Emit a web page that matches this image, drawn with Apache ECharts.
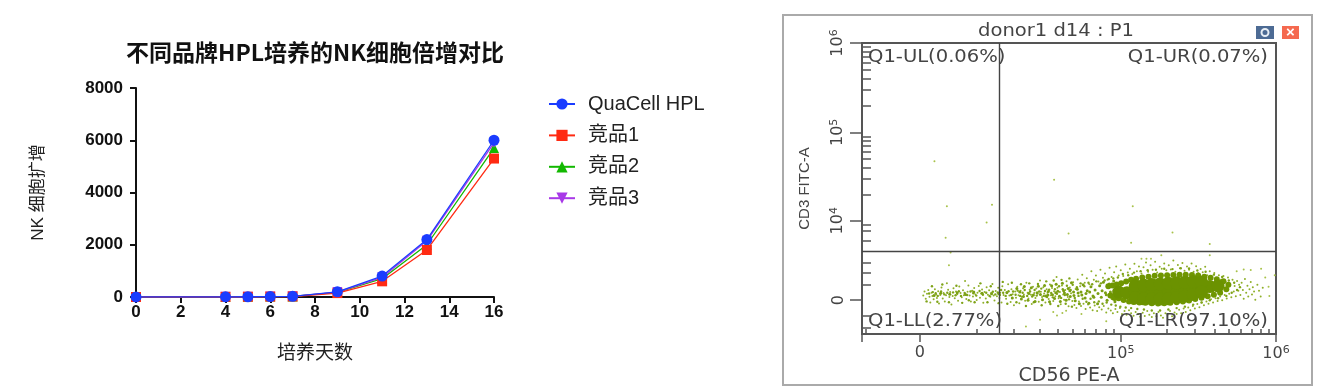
<!DOCTYPE html>
<html><head><meta charset="utf-8">
<style>html,body{margin:0;padding:0;background:#fff}#c{width:1318px;height:392px;filter:blur(0.6px)}</style>
<script src="https://cdn.jsdelivr.net/npm/echarts@6/dist/echarts.min.js"></script>
</head><body><div id="c"></div>
<script>
const days=[0,4,5,6,7,9,11,13,16];
const quacell=[1,5,10,15,25,200,800,2200,6000];
const comp1=[1,5,10,15,20,150,600,1800,5300];
const comp2=[1,5,10,15,22,180,700,2000,5700];
const comp3=[1,5,10,15,24,190,750,2150,5900];
const seriesNames=['QuaCell HPL','竞品1','竞品2','竞品3'];

const flowXMajor=[0,14,62.5,100];
const flowXMinor=[0.8,27.8,36.7,43,47.2,50.9,53.8,56.4,58.8,60.7,73.7,80.4,85.1,88.7,91.6,94.1,96.4,98.3];
const flowYMajor=[11.6,38.9,69.3,100];
const flowYMinor=[0,2,6.1,17,21,24.5,32,35.4,37.5,48,53.4,57.2,60.2,62.6,64.6,66.3,67.9,78.5,83.9,87.8,90.8,93.2,95.3,97,98.6];
const flowXLabels={14:'0',62.5:'10{s|5}',100:'10{s|6}'};
const flowYLabels={11.6:'0',38.9:'10{s|4}',69.3:'10{s|5}',100:'10{s|6}'};
const gateX=33.1, gateY=28.5;

const flowOutliers=[[17.5,59.4],[20.5,43.9],[31.4,44.4],[30.1,38.3],[20.2,33.1],[21.4,28],[21,23.6],[46.4,53],[65.4,43.9],[49.9,34.5],[75,34.9],[65,31.4],[84,30.9],[84,27.1],[72.3,27.1],[67.5,25.9],[68.7,25.9],[69.8,25.9],[99.7,20.2],[39.6,2.6],[43,4.9],[48.4,7.2],[47.1,6.4],[49.3,8],[46.2,7.6],[59,4.4],[53,6.9],[98.2,16.2],[97.4,19.4],[93.9,22],[96.4,22.4],[92.2,22.2],[90.5,21.6],[98.4,13.1]];
const flowSparse=[
[14.8,13.2],[15.1,14.6],[15.4,12.1],[15.7,13.8],[16,15.1],[16.3,12.8],[16.5,10.8],[16.8,14.2],[17,13.1],[17.3,11.9],[17.6,15.4],[17.9,13.6],[18.1,12.4],[18.4,14.7],[18.6,10.5],[18.9,13.4],[19.2,16],[19.5,12.2],[19.7,14.1],[20,11.2],[20.3,13.3],[20.5,17.4],[20.8,15.2],[21.1,12.7],[21.3,14.4],[21.6,10.1],[21.9,13.1],[22.1,15.7],[22.4,12.3],[22.7,14.6],[23,13.7],[23.2,11.4],[23.5,16.3],[23.8,14.1],[24.1,12.6],[24.4,15],[24.6,13.3],[24.9,18.2],[25.2,12],[25.5,14.5],[25.7,16.7],[26,13.2],[26.3,11.2],[26.6,14.9],[26.8,12.9],[27.1,15.8],[27.4,13.6],[27.7,11.7],[27.9,14.2],[28.2,16.5],[28.5,12.5],[28.8,13.9],[29,15.3],[29.3,10.7],[29.6,14.4],[29.9,12.2],[30.1,16.1],[30.4,13.5],[30.7,15],[31,12.8],[31.2,14.1],[31.5,17.2],[31.8,13.2],[32,11.5],[32.3,14.8],[32.6,13],[32.9,15.9],[33.2,12.4],[33.4,14.2],[33.7,10.8],[33.9,16.4],[34.2,13.4],[34.5,15.1],[34.8,12.1],[35,14],[35.3,17.1],[35.6,13.2],[35.9,11],[36.1,15.4],[36.4,13.7],[36.7,9.9],[37,14.6],[37.2,12.5],[37.5,16.2],[37.8,13.3],[38,10.6],[38.3,14.9],[38.6,12.8],[38.9,15.7],[39.1,13.6],[39.4,11.4],[39.7,17.6],[40,14.2],[40.2,12.2],[40.5,15.2],[40.8,13.5],[41,10.3],[41.3,16.2],[41.6,14.1],[41.9,12.4],[42.1,15.6],[42.4,13.8],[42.7,11.1],[43,18.4],[43.2,14.5],[43.5,12.7],[43.8,16.1],[44,13.9],[44.3,10.8],[44.6,15.4],[44.8,14.2],[45.1,12],[45.4,17],[45.6,13.3],[45.9,15.8],[46.2,11.3],[46.4,14.7],[46.7,13],[47,19.6],[47.2,15.9],[47.5,12.3],[47.8,14.4],[48,10.2],[48.3,16.7],[48.6,13.6],[48.8,11.8],[49.1,15.1],[49.4,18.1],[49.7,12.7],[49.9,9.5],[50.2,16],[50.5,14],[50.8,11.3],[51,17.8],[51.3,10],[51.6,15.5],[51.8,8.9],[52.1,18.7],[52.4,11.2],[52.7,16.4],[52.9,9.6],[53.2,20.4],[53.5,10.4],[53.8,17.6],[54,8.6],[54.3,19.2],[54.6,10.1],[54.9,17.1],[55.1,9.1],[55.4,21.6],[55.7,8.2],[56,18.6],[56.2,9.8],[56.5,20.1],[56.8,7.9],[57.1,18],[57.3,9.2],[57.6,22.1],[57.9,8.4],[58.2,19.3],[58.4,9.6],[58.7,20.8],[59,7.4],[59.3,18.6],[59.5,8.8],[59.8,22.8],[60.1,8.1],[60.3,19.6],[60.6,7.1],[60.9,21.2],[61.2,8.6],[61.4,23.2],[61.7,7.6],[62,20.1],[62.3,8.9],[62.5,21.9],[62.8,6.9],[63.1,19.9],[63.4,7.9],[63.6,23.9],[63.9,6.6],[64.2,21.1],[64.5,8.2],[64.7,22.4],[65,7.1],[65.3,20.6],[65.6,6.3],[65.8,24.1],[66.1,7.6],[66.4,21.6],[66.7,6.9],[66.9,23.2],[67.2,5.9],[67.5,20.8],[67.8,7.3],[68,22.9],[68.3,6.2],[68.6,24.6],[68.9,7.9],[69.1,21.4],[69.4,6.6],[69.7,23.6],[70,5.8],[70.2,22.1],[70.5,7.1],[70.8,24.8],[71.1,6.1],[71.3,21.1],[71.6,7.6],[71.9,23.1],[72.2,6.4],[72.4,22.4],[72.7,5.6],[73,24.2],[73.3,7.1],[73.5,21.9],[73.8,6.6],[74.1,23.6],[74.4,7.9],[74.6,22.2],[74.9,6.1],[75.2,25.3],[75.5,7.4],[75.7,21.4],[76,6.9],[76.3,23.7],[76.6,8.3],[76.8,22.6],[77.1,7.1],[77.4,24.4],[77.7,8.8],[77.9,21.7],[78.2,7.6],[78.5,23.2],[78.8,9.1],[79,22.1],[79.3,8.2],[79.6,24.2],[79.9,9.6],[80.1,21.4],[80.4,8.8],[80.7,23.3],[81,10.3],[81.2,20.9],[81.5,9.2],[81.8,22.3],[82.1,10.8],[82.3,21.2],[82.6,9.9],[82.9,23.1],[83.2,11.2],[83.4,20.2],[83.7,10.4],[84,21.6],[84.3,11.9],[84.5,19.7],[84.8,10.8],[85.1,21],[85.4,12.3],[85.6,19.1],[85.9,11.3],[86.2,20.2],[86.5,12.9],[86.7,18.6],[87,11.6],[87.3,19.9],[87.6,13.4],[87.8,18],[88.1,12.2],[88.4,19.4],[88.7,13.8],[88.9,17.1],[89.2,12.6],[89.5,18.6],[89.8,14.6],[90,16.5],[90.3,13],[90.6,18.2],[90.9,14.9],[91.1,16.9],[91.4,13.4],[91.7,17.6],[92,15.1],[92.2,12.1],[92.5,18.9],[92.8,14.2],[93.1,16.6],[93.3,12.9],[93.6,15.4],[93.9,17.9],[94.2,13.6],[94.4,16.1],[94.7,14.6],[95,11.8],[95.5,16.9],[95.9,14.9],[96.3,12.9],[96.8,15.9]
];
const flowCluster=[
[16.2,13.9],[17.1,14.4],[17.8,14],[18.3,13.1],[19.1,14.6],[19.9,13.6],[20.6,14.2],[22,14.3],[22.6,13.3],[23.4,14.7],[23.9,13.1],[24.8,14.1],[25.4,13.4],[26.2,14.6],[26.9,14],[27.6,13.2],[28.4,14.8],[29.2,13.5],[30,14.2],[30.8,13.1],[31.6,14.5],[32.2,13.6],[32.8,14.3],[33.3,13.4],[33.6,15.1],[34.1,14.2],[34.7,13.1],[35.4,14.7],[36,13.4],[36.5,14.6],[37.1,13.5],[37.6,14.9],[38.2,13.1],[38.8,14.2],[39.3,15.1],[39.9,13.1],[40.6,14.6],[41.1,12.9],[41.7,15.1],[42.2,13.2],[42.8,14.6],[43.3,15.6],[43.9,13.1],[44.2,14.8],[44.7,12.7],[45.2,15.2],[45.7,14.1],[46.1,12.6],[46.6,15.4],[47.1,13.8],[47.6,16.4],[48.1,12.4],[48.5,15.4],[49,13.4],[49.5,16.6],[50,11.9],[50.4,15.1],[50.9,16.9],[51.4,12.4],[51.9,16.1],[52.3,13.1],[52.8,17.4],[53.3,12.1],[53.7,16.4],[54.2,11.1],[54.7,17.6],[55.2,12.1],[55.6,17.1],[56.1,10.9],[56.6,18.1],[57.2,11.2],[57.7,17.4],[58.1,10.4],[58.6,18.4],[59.1,10.8],[59.6,18.9],[60.2,10.1],[60.7,19.1],[61.3,9.8],[61.8,19.4],[62.4,9.4],[63,20.6],[63.7,9.1],[64.3,20.2],[65,8.9],[65.7,21.1],[66.5,8.6],[67.3,21.6],[68.1,8.4],[69,21.9],[70,8.1],[71,22.1],[72,8.1],[73,22.4],[74,8.4],[75,22.3],[76,8.9],[77,22.6],[78,9.4],[79,22.5],[80,10.1],[81,21.8],[82,10.8],[83,21.4],[84,11.6],[85,20.4],[86,12.3],[87,19.6],[88,13.1],[88.6,18.4],[89.3,14.2],[89.9,17.6],[90.6,15.1],[91.3,16.1],
[15.6,11.2],[16.9,16.4],[18.2,11.1],[19.4,17],[21,10.9],[22.8,16.6],[24.2,10.7],[25.8,11.6],[27.2,10.9],[28.6,17.4],[30.3,10.9],[31.1,16.4],[33,10.6],[34,17.9],[35.1,10.4],[36.2,17.6],[37.3,10.9],[38.4,17.1],[39.6,9.6],[40.4,17.4],[41.5,10.9],[42.5,17.2],[43.4,9.9],[44.5,18.1],[45.5,10.3],[46.3,18.4],[47.4,9.6],[48.2,18.6],[49.2,10.4],[50.1,19.1],[50.7,9.4]
];
const flowFill=[
[36.3,12.4],[37.4,15.6],[38.5,12],[39.2,16.3],[40.1,11.6],[40.9,15.9],[41.8,11.2],[42.6,16.4],[43.6,11.8],[44.1,16.7],[44.9,13.4],[45.3,11.1],[45.8,16.6],[46.5,12.2],[46.9,17.1],[47.3,14.7],[47.9,11.2],[48.4,17.4],[48.9,14.1],[49.3,11.6],[49.8,15.6],[50.3,12.9],[50.6,17.6],[51.1,14.4],[51.5,11.4],[52,15.4],[52.5,10.4],[52.9,14.4],[53.4,16.9],[53.9,12.4],[54.4,14.9],[54.8,10.6],[55.3,16.2],[55.8,13.1],[56.3,15.1],[56.9,10.4],[57.4,16.6],[57.8,12.6],[58.3,17.8],[58.8,14.2],[59.2,11.6],[59.7,17.2],[60.4,12.2],[60.8,18.2],[61.1,11.1],[61.6,15.4],[38.1,14.4],[39,12.9],[40.3,13.9],[41.4,13.4],[42.3,14.2],[43.1,13.6],[44.4,13.1],[45,14.6],[46,13.5],[46.8,14.2],[47.7,13],[48.7,14.9],[49.6,13.6],[50.2,14.9],[51.2,13.2],[52.2,14.1],[53.1,13.4],[54.1,13.9],[55,14.4],[56,12.6],[57,13.9],[58,14.9],[59,13.5],[60,14.4],[61,13.2],[17.4,13.2],[19,14],[21.2,13.7],[23,14.2],[25,13.6],[27,14.4],[29,14],[31.3,13.8],[33,13.9],[35,14.3]
];
const flowMid=[
[59.5,16.4],[60,13.2],[60.5,16.7],[61,12.4],[61.5,17],[62,12.3],[62.6,17.4],[63.2,11.7],[63.8,18],[64.5,11.2],[65,18.6],[65.6,11],[66.2,19],[67,10.8],[67.7,19.4],[68.5,10.7],[69.2,19.7],[70,10.6],[70.7,20],[71.5,10.5],[72.2,20.1],[73,10.6],[73.7,20.2],[74.5,10.7],[75.2,20.3],[76,10.9],[76.7,20.4],[77.5,11.2],[78.2,20.4],[79,11.5],[79.7,20.3],[80.5,12],[81.2,20.1],[82,12.5],[82.7,19.7],[83.5,13],[84.2,19.3],[85,13.5],[85.7,18.8],[86.5,14.2],[87.3,18.1],[88,15.4],[88.5,16.9]
];
const flowCore=[
[62,14.4],[64,14.2],[66,14.2],[68,14.3],[70,14.4],[72,14.6],[74,14.8],[76,15.1],[78,15.4],[80,15.7],[82,16],[84,16.3],[86,16.5],
[66,16.6],[68,16.8],[70,17],[72,17.2],[74,17.4],[76,17.6],[78,17.8],[80,18],[82,17.8],
[66,12.4],[68,12.1],[70,12],[72,12],[74,12.1],[76,12.5],[78,13],[80,13.6],[82,14.4]
];

const axisText='#444';
const lineCfg=(name,data,color,symbol,size,z)=>({
  name,type:'line',xAxisIndex:0,yAxisIndex:0,
  data:days.map((d,i)=>[d,data[i]]),
  symbol,symbolSize:size,z,clip:false,
  lineStyle:{color,width:1.3},itemStyle:{color}
});
const fmt=map=>v=>{for(const k in map){if(Math.abs(+k-v)<1e-6)return map[k];}return '';};
const rich={s:{fontSize:11,verticalAlign:'bottom',padding:[0,0,7,0],fontFamily:'DejaVu Sans',color:axisText}};
const flowScatter=(name,data,size,color,z)=>({
  name,type:'scatter',xAxisIndex:1,yAxisIndex:1,data,symbolSize:size,z,
  itemStyle:{color,opacity:1},silent:true
});
const flowText=(text,x,y,align)=>({type:'text',x,y,scaleX:1.15,silent:true,z:10,
  style:{x:0,y:0,text,align,verticalAlign:'middle',fill:axisText,font:'17px DejaVu Sans'}});

const chart=echarts.init(document.getElementById('c'));
chart.setOption({
  animation:false,backgroundColor:'#fff',
  title:[
    {text:'不同品牌HPL培养的NK细胞倍增对比',left:315,top:41,padding:0,textAlign:'center',textStyle:{fontFamily:'Noto Sans CJK SC',fontWeight:'bold',fontSize:23,color:'#111'}}
  ],
  legend:{
    data:seriesNames,orient:'vertical',left:543,top:88,itemWidth:26,itemHeight:14,itemGap:9.4,
    textStyle:{fontFamily:'Liberation Sans, Noto Sans CJK SC',fontSize:20,color:'#222',lineHeight:22,padding:[0,0,0,8]}
  },
  grid:[
    {left:136,top:88,width:358,height:209},
    {left:862,top:43,width:414,height:291,show:true,borderColor:'#555',borderWidth:2,backgroundColor:'transparent'}
  ],
  xAxis:[
    {type:'value',gridIndex:0,min:0,max:16,interval:2,name:'培养天数',nameLocation:'middle',nameGap:45,
     nameTextStyle:{fontFamily:'Noto Sans CJK SC',fontSize:19,color:'#222'},
     axisLine:{onZero:false,lineStyle:{color:'#111',width:2}},axisTick:{show:true,length:6,lineStyle:{color:'#111',width:2}},
     axisLabel:{fontFamily:'Liberation Sans',fontWeight:'bold',fontSize:17,color:'#111',margin:7,showMinLabel:true,showMaxLabel:true},splitLine:{show:false}},
    {type:'value',gridIndex:1,min:0,max:100,name:'CD56 PE-A',nameLocation:'middle',nameGap:27,
     nameTextStyle:{fontFamily:'DejaVu Sans',fontSize:19,color:axisText},
     axisLine:{onZero:false,lineStyle:{color:'#555',width:1}},
     axisTick:{show:true,length:8,customValues:flowXMajor,lineStyle:{color:'#555',width:1.5}},
     axisLabel:{customValues:flowXMajor,formatter:fmt(flowXLabels),rich,fontFamily:'DejaVu Sans',fontSize:16,color:axisText,margin:11},splitLine:{show:false}},
    {type:'value',gridIndex:1,min:0,max:100,
     axisLine:{show:false},axisTick:{show:true,length:5,customValues:flowXMinor,lineStyle:{color:'#555',width:1.5}},
     axisLabel:{show:false},splitLine:{show:false}}
  ],
  yAxis:[
    {type:'value',gridIndex:0,min:0,max:8000,interval:2000,name:'NK 细胞扩增',nameLocation:'middle',nameGap:89,nameRotate:90,
     nameTextStyle:{fontFamily:'Liberation Sans, Noto Sans CJK SC',fontSize:17,color:'#222'},
     axisLine:{show:true,onZero:false,lineStyle:{color:'#111',width:2}},axisTick:{show:true,length:6,lineStyle:{color:'#111',width:2}},
     axisLabel:{formatter:v=>String(v),fontFamily:'Liberation Sans',fontWeight:'bold',fontSize:17,color:'#111',margin:13,showMinLabel:true,showMaxLabel:true},splitLine:{show:false}},
    {type:'value',gridIndex:1,min:0,max:100,name:'CD3 FITC-A',nameLocation:'middle',nameGap:50,nameRotate:90,
     nameTextStyle:{fontFamily:'Liberation Sans',fontSize:15,color:axisText},
     axisLine:{show:true,onZero:false,lineStyle:{color:'#555',width:1}},
     axisTick:{show:true,length:12,customValues:flowYMajor,lineStyle:{color:'#555',width:1.5}},
     axisLabel:{customValues:flowYMajor,formatter:fmt(flowYLabels),rich,rotate:90,fontFamily:'DejaVu Sans',fontSize:16,color:axisText,margin:15},splitLine:{show:false}},
    {type:'value',gridIndex:1,min:0,max:100,
     axisLine:{show:false},axisTick:{show:true,length:9,customValues:flowYMinor,lineStyle:{color:'#555',width:1.5}},
     axisLabel:{show:false},splitLine:{show:false}}
  ],
  series:[
    lineCfg(seriesNames[0],quacell,'#1a3cff','circle',11,6),
    lineCfg(seriesNames[1],comp1,'#ff2a12','rect',10,5),
    lineCfg(seriesNames[2],comp2,'#12b800','triangle',10,3),
    lineCfg(seriesNames[3],comp3,'#a838e8','path://M0,0 L10,0 L5,10 Z',10,4),
    flowScatter('outliers',flowOutliers,2,'#a8c24a',3),
    flowScatter('sparse',flowSparse,2,'#8fb02a',3),
    flowScatter('cluster',flowCluster,2.4,'#7fa318',3),
    flowScatter('fill',flowFill,3,'#7a9f12',3),
    flowScatter('mid',flowMid,6,'#6f9600',4),
    Object.assign(flowScatter('core',flowCore,13,'#6b9200',4),{
      markLine:{silent:true,symbol:'none',animation:false,label:{show:false},
        lineStyle:{color:'#444',width:1.4,type:'solid'},
        data:[{xAxis:gateX},{yAxis:gateY}]}
    })
  ],
  graphic:[
    {type:'rect',shape:{x:783,y:15,width:529,height:370},style:{fill:'none',stroke:'#aaa',lineWidth:2},silent:true},
    {type:'rect',shape:{x:1256,y:26,width:18,height:13},style:{fill:'#4d6b94'},silent:true},
    {type:'circle',shape:{cx:1265,cy:32.5,r:3.5},style:{fill:'none',stroke:'#e8eef5',lineWidth:2},silent:true},
    {type:'rect',shape:{x:1282,y:26,width:17,height:13},style:{fill:'#f5694f'},silent:true},
    {type:'text',style:{x:1290.5,y:32.5,text:'×',fill:'#fff',font:'bold 15px Liberation Sans',align:'center',verticalAlign:'middle'},silent:true},
    flowText('donor1 d14 : P1',1056,32,'center'),
    flowText('Q1-UL(0.06%)',868,58,'left'),
    flowText('Q1-UR(0.07%)',1268,58,'right'),
    flowText('Q1-LL(2.77%)',868,322,'left'),
    flowText('Q1-LR(97.10%)',1268,322,'right')
  ]
});
</script></body></html>
